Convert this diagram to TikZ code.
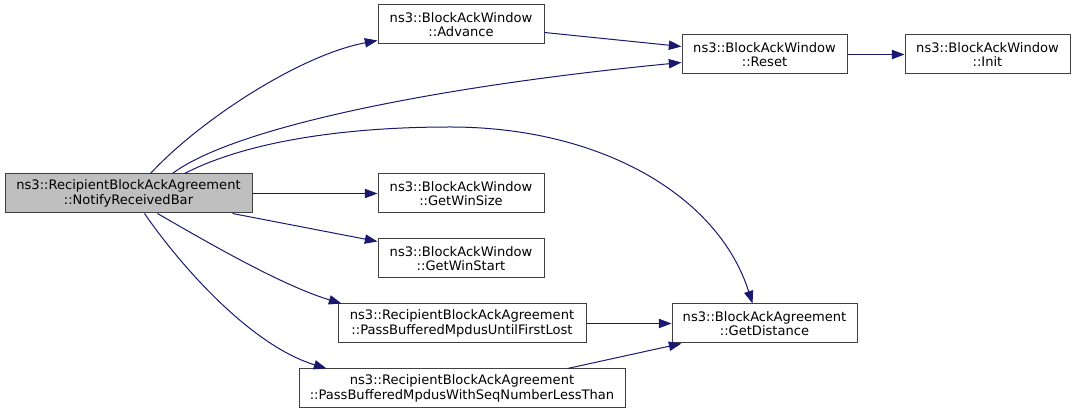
\documentclass[tikz,border=0pt]{standalone}
\usepackage{fontspec}
\setmainfont{DejaVu Sans}
\usetikzlibrary{arrows.meta,calc}
\definecolor{edgecol}{HTML}{191970}
\definecolor{boxline}{HTML}{404040}
\begin{document}
\begin{tikzpicture}[x=0.75pt,y=-0.75pt,
  box/.style={draw=boxline, line width=0.75pt, fill=white, align=center, inner sep=0pt,
    font=\fontsize{9.8}{10.7}\selectfont, minimum height=29.25pt},
  root/.style={box, fill=black!25},
  edge/.style={draw=edgecol, line width=0.75pt, -{Triangle[length=9.5pt,width=7pt]}, edgecol}]
\useasboundingbox (0,0) rectangle (1076,416);
\node[root, minimum width=185.25pt] (A) at (128.5,193.5) {ns3::RecipientBlockAckAgreement\\::NotifyReceivedBar};
\node[box, minimum width=124.5pt] (B) at (461,24.5) {ns3::BlockAckWindow\\::Advance};
\node[box, minimum width=123.75pt] (C) at (764.5,54.5) {ns3::BlockAckWindow\\::Reset};
\node[box, minimum width=123.75pt] (D) at (987.5,54.5) {ns3::BlockAckWindow\\::Init};
\node[box, minimum width=124.5pt] (E) at (461,193.5) {ns3::BlockAckWindow\\::GetWinSize};
\node[box, minimum width=124.5pt] (F) at (461,258.5) {ns3::BlockAckWindow\\::GetWinStart};
\node[box, minimum width=186pt] (G) at (462,323.5) {ns3::RecipientBlockAckAgreement\\::PassBufferedMpdusUntilFirstLost};
\node[box, minimum width=244.5pt] (H) at (462,388.5) {ns3::RecipientBlockAckAgreement\\::PassBufferedMpdusWithSeqNumberLessThan};
\node[box, minimum width=138.75pt] (I) at (764.5,323.5) {ns3::BlockAckAgreement\\::GetDistance};

\draw[edge] ($(A.north west)+(146,0)$) .. controls (200,120) and (300,55) .. ($(B.south west)+(0,-4)$);
\draw[edge] ($(A.north west)+(168,0)$) .. controls (230,130) and (420,88) .. ($(C.north west)+(0,28)$);
\draw[edge] ($(A.north west)+(180,0)$) .. controls (250,140) and (350,127) .. (450,127)
   .. controls (600,127) and (718,195) .. ($(I.north west)+(81,0)$);
\draw[edge] ($(B.north east)+(0,28)$) -- ($(C.north west)+(0,12)$);
\draw[edge] (C.east) -- (D.west);
\draw[edge] (A.east) -- (E.west);
\draw[edge] ($(A.south east)+(-20,0)$) -- ($(F.north west)+(0,3)$);
\draw[edge] ($(A.south west)+(153,0)$) .. controls (200,238) and (280,285) .. ($(G.north west)+(4,0)$);
\draw[edge] ($(A.south west)+(140,0)$) .. controls (180,265) and (250,345) .. ($(H.north west)+(28,0)$);
\draw[edge] (G.east) -- (I.west);
\draw[edge] ($(H.north east)+(-58,0)$) -- ($(I.south west)+(10,0)$);
\end{tikzpicture}
\end{document}
